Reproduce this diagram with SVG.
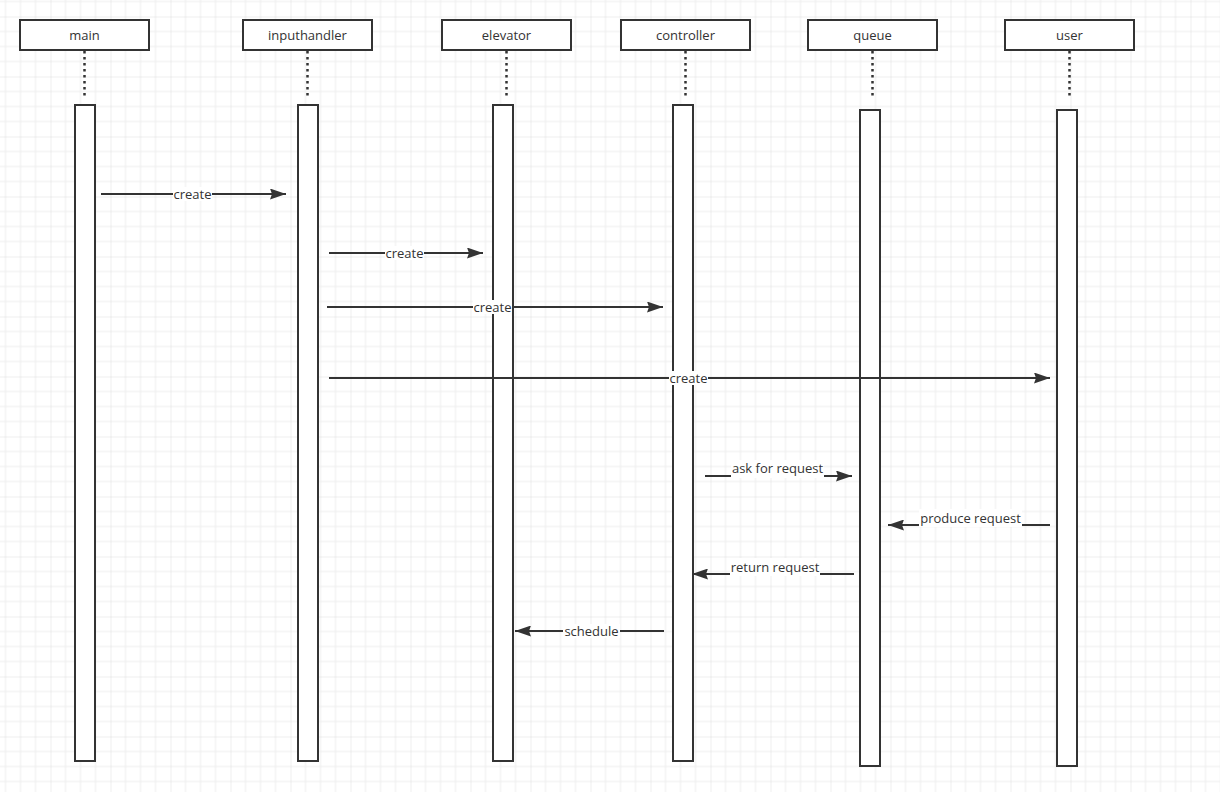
<svg xmlns="http://www.w3.org/2000/svg" width="1220" height="792" viewBox="0 0 1220 792">
<style>
.hdr{fill:#fff;stroke:#333;stroke-width:2}
.act{fill:#fff;stroke:#333;stroke-width:2}
.life{stroke:#333;stroke-width:2.5;stroke-dasharray:2.5 3.5;fill:none}
.t{font-family:"Open Sans","Liberation Sans",sans-serif;font-size:13px;fill:#333;text-anchor:middle}
.msg{stroke:#333;stroke-width:2;fill:none}
.lb{fill:#fff}
</style>
<defs>
<pattern id="grid" x="50.5" y="16.5" width="60" height="60" patternUnits="userSpaceOnUse">
<path d="M15 0V60M30 0V60M45 0V60M0 15H60M0 30H60M0 45H60" stroke="#ededed" stroke-width="1"/>
<path d="M0 0V60M0 0H60" stroke="#dddddd" stroke-width="1"/>
</pattern>
<marker id="ar" viewBox="0 0 16 11" refX="16" refY="5.5" markerWidth="16" markerHeight="11" markerUnits="userSpaceOnUse" orient="auto">
<path d="M0 0L16 5.5L0 11L2 5.5Z" fill="#333"/>
</marker>
</defs>
<rect width="1220" height="792" fill="#fff"/>
<rect width="1220" height="792" fill="url(#grid)"/>

<g id="main">
<rect class="hdr" x="20" y="20" width="129" height="30"/>
<text class="t" x="84.5" y="40">main</text>
<line class="life" x1="84.5" y1="51" x2="84.5" y2="98"/>
<rect class="act" x="75" y="105" width="20" height="656"/>
</g>
<g id="inputhandler">
<rect class="hdr" x="243" y="20" width="129" height="30"/>
<text class="t" x="307.5" y="40">inputhandler</text>
<line class="life" x1="307.5" y1="51" x2="307.5" y2="98"/>
<rect class="act" x="298" y="105" width="20" height="656"/>
</g>
<g id="elevator">
<rect class="hdr" x="442" y="20" width="129" height="30"/>
<text class="t" x="506.5" y="40">elevator</text>
<line class="life" x1="506.5" y1="51" x2="506.5" y2="98"/>
<rect class="act" x="493" y="105" width="20" height="656"/>
</g>
<g id="controller">
<rect class="hdr" x="621" y="20" width="129" height="30"/>
<text class="t" x="685.5" y="40">controller</text>
<line class="life" x1="685.5" y1="51" x2="685.5" y2="98"/>
<rect class="act" x="673" y="105" width="20" height="656"/>
</g>
<g id="queue">
<rect class="hdr" x="808" y="20" width="129" height="30"/>
<text class="t" x="872.5" y="40">queue</text>
<line class="life" x1="872.5" y1="51" x2="872.5" y2="98"/>
<rect class="act" x="860" y="110" width="20" height="656"/>
</g>
<g id="user">
<rect class="hdr" x="1005" y="20" width="129" height="30"/>
<text class="t" x="1069.5" y="40">user</text>
<line class="life" x1="1069.5" y1="51" x2="1069.5" y2="98"/>
<rect class="act" x="1057" y="110" width="20" height="656"/>
</g>

<g id="connectors">
<line class="msg" x1="101" y1="194" x2="286" y2="194" marker-end="url(#ar)"/>
<rect class="lb" x="173" y="187" width="39" height="14"/>
<text class="t" x="192.5" y="198.5">create</text>

<line class="msg" x1="329" y1="253" x2="483" y2="253" marker-end="url(#ar)"/>
<rect class="lb" x="385" y="246" width="39" height="14"/>
<text class="t" x="404.5" y="257.5">create</text>

<line class="msg" x1="327" y1="307" x2="663" y2="307" marker-end="url(#ar)"/>
<rect class="lb" x="473" y="300" width="39" height="14"/>
<text class="t" x="492.5" y="311.5">create</text>

<line class="msg" x1="329" y1="378" x2="1050" y2="378" marker-end="url(#ar)"/>
<rect class="lb" x="669" y="371" width="39" height="14"/>
<text class="t" x="688.5" y="382.5">create</text>

<line class="msg" x1="705" y1="476" x2="852" y2="476" marker-end="url(#ar)"/>
<rect class="lb" x="731" y="460" width="93" height="18"/>
<text class="t" x="777.5" y="472.5">ask for request</text>

<line class="msg" x1="1050" y1="525" x2="888" y2="525" marker-end="url(#ar)"/>
<rect class="lb" x="919" y="509" width="103" height="18"/>
<text class="t" x="970.5" y="522.5">produce request</text>

<line class="msg" x1="854" y1="574" x2="692" y2="574" marker-end="url(#ar)"/>
<rect class="lb" x="730" y="558" width="90" height="18"/>
<text class="t" x="775" y="571.5">return request</text>

<line class="msg" x1="664" y1="631" x2="515" y2="631" marker-end="url(#ar)"/>
<rect class="lb" x="563" y="624" width="57" height="14"/>
<text class="t" x="591.5" y="635.5">schedule</text>
</g>
</svg>
